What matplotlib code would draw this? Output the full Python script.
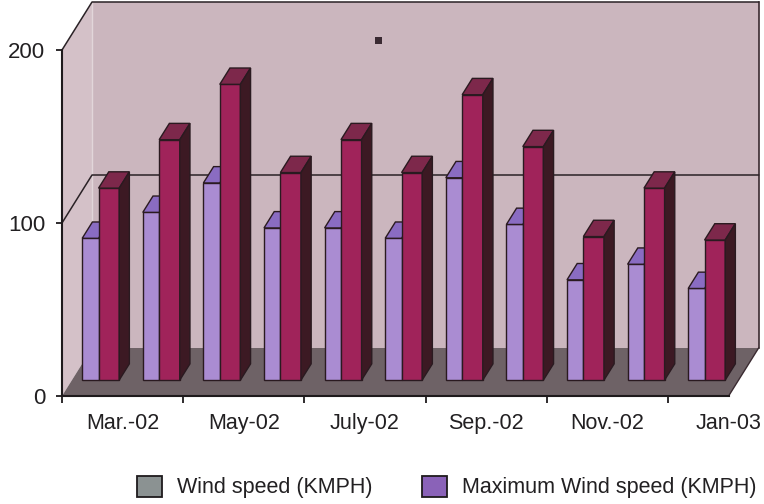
import matplotlib
matplotlib.use("Agg")
import matplotlib.pyplot as plt
from matplotlib.patches import Polygon, Patch, Rectangle

plt.rcParams["font.family"] = ["Liberation Sans", "DejaVu Sans"]

# monthly wind data
months = ["Mar.-02", "Apr.-02", "May-02", "June-02", "July-02", "Aug.-02",
          "Sep.-02", "Oct.-02", "Nov.-02", "Dec.-02", "Jan-03"]
wind_speed = [82, 97, 114, 88, 88, 82, 117, 90, 58, 67, 53]
max_wind_speed = [111, 139, 171, 120, 139, 120, 165, 135, 83, 111, 81]
legend_labels = ["Wind speed (KMPH)", "Maximum Wind speed (KMPH)"]
y_ticks = [0, 100, 200]

# colours
WALL = "#cbb6be"
SIDE_WALL = "#d4c1c8"
FLOOR = "#6e6266"
LAV_FRONT, LAV_TOP = "#aa8cd2", "#8a6cc2"
CRIM_FRONT, CRIM_TOP, CRIM_SIDE = "#a0235a", "#7d284b", "#3c1923"
EDGE = "#2a1a20"
TEXT = "#222022"

W, H = 764, 504
fig = plt.figure(figsize=(W / 100, H / 100), dpi=100)
ax = fig.add_axes([0, 0, 1, 1])

# front plane: x=0 at 62px, 60.6px per month; y=0 at 396px, 1.73px per unit
x_px, y_px = 60.6, 1.73
ax.set_xlim(-62 / x_px, (W - 62) / x_px)
ax.set_ylim((396 - H) / y_px, 396 / y_px)

n = len(months)
ymax = y_ticks[-1]
DX, DY = 30 / x_px, 48 / y_px  # full depth of the box


def poly(pts, fc, ec="none", lw=0.0, z=1):
    ax.add_patch(Polygon(pts, closed=True, facecolor=fc, edgecolor=ec,
                         linewidth=lw, zorder=z, joinstyle="miter"))


# walls and floor
poly([(DX, DY), (n + DX, DY), (n + DX, ymax + DY), (DX, ymax + DY)], WALL)
poly([(0, 0), (DX, DY), (DX, ymax + DY), (0, ymax)], SIDE_WALL)
poly([(0, 0), (n, 0), (n + DX, DY), (DX, DY)], FLOOR)
ax.plot([DX, DX], [DY, ymax + DY], color="#e2d6da", lw=1.0, zorder=1.5)
ax.plot([n + DX, n + DX], [DY, ymax + DY], color="#3a2a30", lw=1.2, zorder=1.5)
ax.plot([n, n + DX], [0, DY], color="#3a2a30", lw=1.0, zorder=1.5)
for v in y_ticks[1:]:
    ax.plot([0, DX, n + DX], [v, v + DY, v + DY], color="#2a2226",
            lw=1.1, zorder=1.5)

# 3D columns, placed in the middle third of the depth
f0, f1 = 0.33, 0.67
ox, oy = f0 * DX, f0 * DY
bx, by = (f1 - f0) * DX, (f1 - f0) * DY
for i in range(n):
    l0, l1, c1 = i + 0.17, i + 0.44, i + 0.78
    a, b = wind_speed[i], max_wind_speed[i]
    # lower series
    poly([(l0 + ox, oy), (l1 + ox, oy), (l1 + ox, a + oy), (l0 + ox, a + oy)],
         LAV_FRONT, EDGE, 1.0, 3)
    poly([(l0 + ox, a + oy), (l1 + ox, a + oy), (l1 + ox + bx, a + oy + by),
          (l0 + ox + bx, a + oy + by)], LAV_TOP, EDGE, 1.0, 3)
    # higher series
    poly([(l1 + ox, oy), (c1 + ox, oy), (c1 + ox, b + oy), (l1 + ox, b + oy)],
         CRIM_FRONT, EDGE, 1.0, 4)
    poly([(l1 + ox, b + oy), (c1 + ox, b + oy), (c1 + ox + bx, b + oy + by),
          (l1 + ox + bx, b + oy + by)], CRIM_TOP, EDGE, 1.0, 4)
    poly([(c1 + ox, oy), (c1 + ox + bx, oy + by), (c1 + ox + bx, b + oy + by),
          (c1 + ox, b + oy)], CRIM_SIDE, EDGE, 1.0, 4)

# axes lines and ticks
for s in ["top", "right"]:
    ax.spines[s].set_visible(False)
ax.spines["left"].set_position(("data", 0))
ax.spines["left"].set_bounds(0, ymax)
ax.spines["bottom"].set_position(("data", 0))
ax.spines["bottom"].set_bounds(0, n)
for s in ["left", "bottom"]:
    ax.spines[s].set_linewidth(1.5)
    ax.spines[s].set_color("#1e1a1c")
    ax.spines[s].set_zorder(6)

ax.set_yticks(y_ticks)
ax.set_yticklabels([str(v) for v in y_ticks])
ax.set_xticks(range(0, n, 2))
ax.set_xticklabels([])
ax.set_xticks(range(1, n + 1, 2), minor=True)
ax.set_xticklabels(months[::2], minor=True)
ax.tick_params(axis="y", length=4, width=1.3, pad=8, labelsize=16,
               colors="#1e1a1c", labelcolor=TEXT)
ax.tick_params(axis="x", which="major", length=5, width=1.3, direction="out",
               colors="#1e1a1c")
ax.tick_params(axis="x", which="minor", length=0, pad=12, labelsize=15.5,
               labelcolor=TEXT)

# small dark marker on the wall
fig.patches.append(Rectangle((375 / W, 1 - 44 / H), 7 / W, 7 / H,
                             transform=fig.transFigure, facecolor="#3a2a32",
                             edgecolor="none"))

handles = [Patch(facecolor="#8b9292", edgecolor="#1e1a1c", linewidth=1.3),
           Patch(facecolor="#8a62b8", edgecolor="#1e1a1c", linewidth=1.3)]
fig.legend(handles, legend_labels, loc="center left",
           bbox_to_anchor=(137 / W, 1 - 487 / H), ncol=2, frameon=False,
           fontsize=15.5, handlelength=1.15, handleheight=1.15,
           handletextpad=0.7, columnspacing=2.3, borderpad=0,
           borderaxespad=0, labelcolor=TEXT)

fig.savefig("out.png", dpi=100, facecolor="white")
